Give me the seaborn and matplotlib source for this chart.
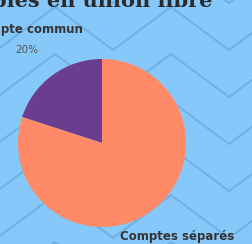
import numpy as np
import seaborn as sns
import matplotlib.pyplot as plt

# data
labels = ["Compte commun", "Comptes séparés"]
shares = [20, 80]
colors = ["#6a3d8f", "#ff8a68"]
title = "Comptes des couples en union libre"

BG = "#86c8fa"
W, H = 252, 244

sns.set_theme(style="white")
plt.rcParams["font.family"] = ["DejaVu Sans"]

fig = plt.figure(figsize=(W / 100, H / 100), dpi=100)
fig.patch.set_facecolor(BG)

# zigzag background, pixel coordinates
bg = fig.add_axes([0, 0, 1, 1])
bg.set_xlim(0, W)
bg.set_ylim(H, 0)
bg.axis("off")
xs = np.arange(-3 - 116 * 2, W + 120, 58.0)
for k in range(-2, 8):
    ys = np.where(np.arange(len(xs)) % 2 == 0, 50, 7) + 47 * k
    bg.plot(xs, ys, color="#6aa9dc", lw=1.5, alpha=0.75, solid_joinstyle="miter")

bg.text(212, 7, title, ha="right", va="baseline", fontsize=15,
        family="DejaVu Serif", fontweight="bold", color="#2b2b2b")

# pie
ax = fig.add_axes([18 / W, (H - 143 - 84) / H, 168 / W, 168 / H])
wedges, _ = ax.pie(shares, colors=colors, startangle=90, counterclock=True,
                   wedgeprops=dict(linewidth=0))
ax.set_xlim(-1, 1)
ax.set_ylim(-1, 1)
ax.set_aspect("equal")

for w, lab, val in zip(wedges, labels, shares):
    ang = np.deg2rad((w.theta1 + w.theta2) / 2)
    x, y = 1.52 * np.cos(ang), 1.52 * np.sin(ang)
    ax.annotate(lab, (x, y), xytext=(0, 7.2), textcoords="offset points",
                ha="center", va="center", fontsize=8.5, fontweight="bold",
                color="#333333", annotation_clip=False)
    ax.annotate(f"{val}%", (x, y), xytext=(0, -7.2), textcoords="offset points",
                ha="center", va="center", fontsize=7.5, color="#555555",
                annotation_clip=False)

fig.savefig("out.png", dpi=100, facecolor=BG)
